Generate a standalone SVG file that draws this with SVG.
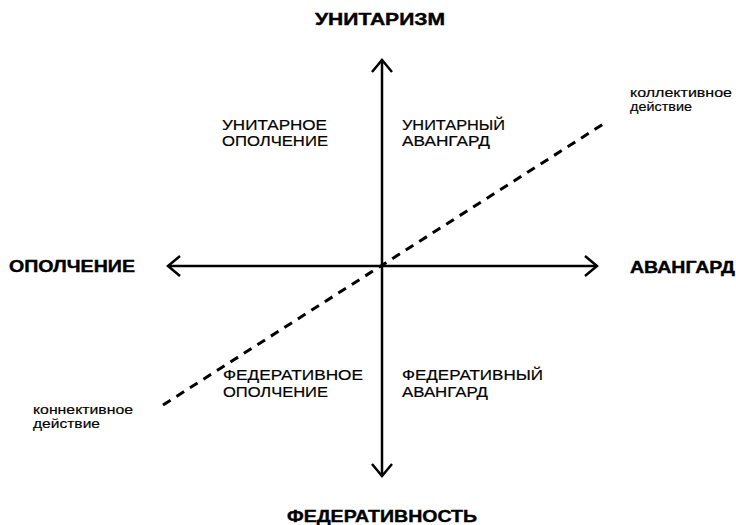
<svg xmlns="http://www.w3.org/2000/svg" width="736" height="525" viewBox="0 0 736 525">
<style>
.axis{stroke:#000;stroke-width:2.5;fill:none;stroke-linecap:butt}
.head{stroke:#000;stroke-width:2.5;fill:none;stroke-linejoin:miter}
.dash{stroke:#000;stroke-width:3;fill:none;stroke-dasharray:9 7}
.big{font-family:"Liberation Sans",Arial,sans-serif;font-weight:bold;font-size:16.5px;fill:#000;stroke:#000;stroke-width:0.4}
.mid{font-family:"Liberation Sans",Arial,sans-serif;font-size:15px;fill:#000;stroke:#000;stroke-width:0.2}
.sm{font-family:"Liberation Sans",Arial,sans-serif;font-size:12px;fill:#000;stroke:#000;stroke-width:0.15}
</style>
<rect width="736" height="525" fill="#fff"/>
<g id="connectors">
<line class="dash" x1="163" y1="405" x2="608" y2="121"/>
<line class="axis" x1="382" y1="60" x2="382" y2="475"/>
<line class="axis" x1="168" y1="266" x2="597" y2="266"/>
<polyline class="head" points="372,72 382,60 392,72"/>
<polyline class="head" points="372,464 382,476 392,464"/>
<polyline class="head" points="180,256 168,266 180,276"/>
<polyline class="head" points="585,256 597,266 585,276"/>
</g>
<g id="unitarism"><text class="big" x="315" y="25" textLength="130" lengthAdjust="spacingAndGlyphs">УНИТАРИЗМ</text></g>
<g id="federativnost"><text class="big" x="287" y="522" textLength="190" lengthAdjust="spacingAndGlyphs">ФЕДЕРАТИВНОСТЬ</text></g>
<g id="opolchenie"><text class="big" x="9" y="272" textLength="126" lengthAdjust="spacingAndGlyphs">ОПОЛЧЕНИЕ</text></g>
<g id="avangard"><text class="big" x="630" y="273" textLength="105" lengthAdjust="spacingAndGlyphs">АВАНГАРД</text></g>
<g id="q-unit-opol">
<text class="mid" x="222" y="130" textLength="105" lengthAdjust="spacingAndGlyphs">УНИТАРНОЕ</text>
<text class="mid" x="222" y="146" textLength="106" lengthAdjust="spacingAndGlyphs">ОПОЛЧЕНИЕ</text>
</g>
<g id="q-unit-avan">
<text class="mid" x="402" y="130" textLength="103" lengthAdjust="spacingAndGlyphs">УНИТАРНЫЙ</text>
<text class="mid" x="402" y="146" textLength="88" lengthAdjust="spacingAndGlyphs">АВАНГАРД</text>
</g>
<g id="q-fed-opol">
<text class="mid" x="223" y="380" textLength="140" lengthAdjust="spacingAndGlyphs">ФЕДЕРАТИВНОЕ</text>
<text class="mid" x="223" y="397" textLength="105" lengthAdjust="spacingAndGlyphs">ОПОЛЧЕНИЕ</text>
</g>
<g id="q-fed-avan">
<text class="mid" x="402" y="380" textLength="141" lengthAdjust="spacingAndGlyphs">ФЕДЕРАТИВНЫЙ</text>
<text class="mid" x="402" y="397" textLength="86" lengthAdjust="spacingAndGlyphs">АВАНГАРД</text>
</g>
<g id="konnektivnoe">
<text class="sm" x="33" y="414" textLength="100" lengthAdjust="spacingAndGlyphs">коннективное</text>
<text class="sm" x="33" y="428" textLength="67" lengthAdjust="spacingAndGlyphs">действие</text>
</g>
<g id="kollektivnoe">
<text class="sm" x="630" y="97" textLength="102" lengthAdjust="spacingAndGlyphs">коллективное</text>
<text class="sm" x="630" y="111" textLength="62" lengthAdjust="spacingAndGlyphs">действие</text>
</g>
</svg>
